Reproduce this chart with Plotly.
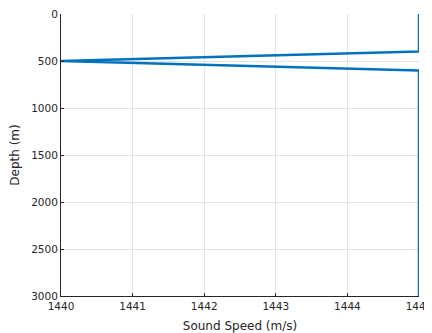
import plotly.graph_objects as go

# sound speed profile (m/s) vs depth (m)
depth = [0, 400, 500, 600, 3000]
sound_speed = [1445, 1445, 1440, 1445, 1445]

x_ticks = [1440, 1441, 1442, 1443, 1444, 1445]
y_ticks = [0, 500, 1000, 1500, 2000, 2500, 3000]

fig = go.Figure()
fig.add_trace(go.Scatter(
    x=sound_speed,
    y=depth,
    mode="lines",
    line=dict(color="#0072BD", width=2.5),
    showlegend=False,
    cliponaxis=False,
))

axis_common = dict(
    showgrid=True,
    gridcolor="#e3e3e3",
    gridwidth=1,
    showline=True,
    linecolor="#262626",
    linewidth=1,
    ticks="inside",
    ticklen=3,
    tickcolor="#262626",
    zeroline=False,
    automargin=False,
    ticklabeloverflow="allow",
    tickfont=dict(family="DejaVu Sans", size=10.5, color="#262626"),
)

# page body has an 8px margin: shift the figure back by 8px, and let it run
# a little past the right edge so the last tick label is not clipped
fig.update_layout(
    width=432,
    height=325,
    margin=dict(l=53, r=21, t=6, b=37),
    paper_bgcolor="white",
    plot_bgcolor="white",
    font=dict(family="DejaVu Sans", size=11, color="#262626"),
    xaxis=dict(
        axis_common,
        range=[1440, 1445],
        tickvals=x_ticks,
        title=dict(text="Sound Speed (m/s)", font=dict(size=12)),
    ),
    yaxis=dict(
        axis_common,
        range=[3000, 0],
        tickvals=y_ticks,
        title=dict(text="Depth (m)", font=dict(size=12)),
    ),
)

fig.write_html("out.html")
